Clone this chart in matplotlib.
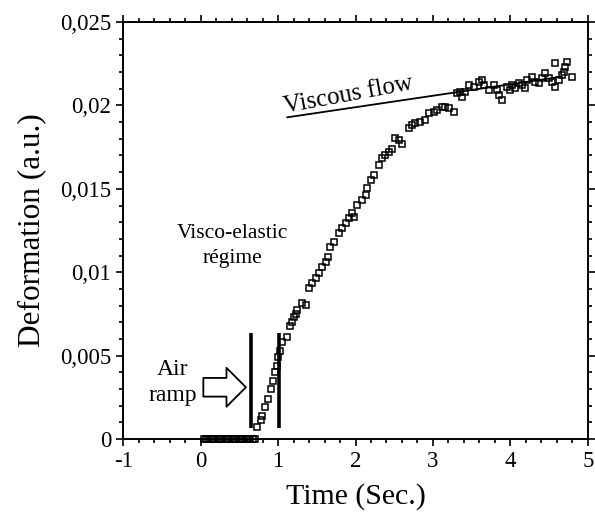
import matplotlib
matplotlib.use("Agg")
import matplotlib.pyplot as plt
from matplotlib.ticker import MultipleLocator, FuncFormatter

plt.rcParams["font.family"] = ["Liberation Serif", "DejaVu Serif"]
plt.rcParams["axes.unicode_minus"] = False

# baseline before the air ramp (deformation = 0)
base_t = [0.04, 0.07, 0.10, 0.13, 0.16, 0.19, 0.22, 0.25, 0.28, 0.31, 0.34,
          0.37, 0.40, 0.43, 0.46, 0.49, 0.52, 0.55, 0.58, 0.61, 0.64, 0.67, 0.70]
base_d = [0.0] * len(base_t)

# measured deformation after the ramp
time = [0.73, 0.774, 0.796, 0.826, 0.865, 0.903, 0.938, 0.955, 0.98, 0.994,
        1.019, 1.054, 1.11, 1.148, 1.183, 1.204, 1.226, 1.248, 1.312, 1.355,
        1.397, 1.441, 1.484, 1.526, 1.570, 1.613, 1.643, 1.677, 1.720, 1.785,
        1.828, 1.871, 1.914, 1.957, 1.978, 2.022, 2.086, 2.129, 2.151, 2.194,
        2.236, 2.301, 2.345, 2.387, 2.430, 2.474, 2.516, 2.559, 2.603, 2.688,
        2.732, 2.774, 2.839, 2.903, 2.946, 3.010, 3.054, 3.119, 3.161, 3.204,
        3.268, 3.312, 3.355, 3.377, 3.419, 3.462, 3.526, 3.591, 3.635, 3.655,
        3.720, 3.785, 3.828, 3.848, 3.893, 3.957, 4.000, 4.022, 4.065, 4.107,
        4.151, 4.194, 4.215, 4.280, 4.323, 4.365, 4.409, 4.452, 4.494, 4.538,
        4.581, 4.581, 4.623, 4.667, 4.688, 4.710, 4.732, 4.796]
deform = [0.00074, 0.00114, 0.00138, 0.0019, 0.0024, 0.0030, 0.0035, 0.0040,
          0.0044, 0.0049, 0.0053, 0.0058, 0.0061, 0.0068, 0.0070, 0.00733,
          0.0075, 0.00773, 0.00814, 0.00803, 0.00903, 0.00933, 0.00963,
          0.00993, 0.01033, 0.01063, 0.01089, 0.01153, 0.01183, 0.01233,
          0.01263, 0.01293, 0.01323, 0.01353, 0.01333, 0.01403, 0.01433,
          0.01463, 0.01503, 0.01553, 0.01583, 0.01643, 0.01683, 0.01703,
          0.01722, 0.01737, 0.01803, 0.01793, 0.01769, 0.01863, 0.01882,
          0.01893, 0.01902, 0.01912, 0.01953, 0.01962, 0.01972, 0.01992,
          0.01992, 0.01983, 0.01962, 0.02072, 0.02082, 0.02052, 0.02082,
          0.02122, 0.02112, 0.02142, 0.02152, 0.02122, 0.02092, 0.02122,
          0.02092, 0.02062, 0.02032, 0.02112, 0.02092, 0.02122, 0.02102,
          0.02132, 0.02122, 0.02102, 0.02152, 0.02172, 0.02142, 0.02132,
          0.02162, 0.02192, 0.02162, 0.02142, 0.02112, 0.02252, 0.02152,
          0.02182, 0.02202, 0.02232, 0.02262, 0.02172]

# viscous flow fit line (start, end)
flow_t = [1.12, 4.65]
flow_d = [0.01929, 0.02172]

# ramp boundaries
ramp_t = [0.645, 1.01]
ramp_lo, ramp_hi = 0.00064, 0.00636

fig = plt.figure(figsize=(5.95, 5.14), dpi=100)
ax = fig.add_axes([0.207, 0.146, 0.781, 0.811])

mk = dict(marker="s", ls="none", ms=4.5, mfc="none", mec="black", mew=1.1)
ax.plot(base_t, base_d, **mk, clip_on=False, zorder=5)
ax.plot(time, deform, **mk)
ax.plot(flow_t, flow_d, color="black", lw=1.3)
ax.vlines(ramp_t, ramp_lo, ramp_hi, color="black", lw=2.6)

ax.annotate("", xy=(0.585, 0.0031), xytext=(0.035, 0.0031),
            arrowprops=dict(arrowstyle="simple,head_length=0.5,head_width=1.0,tail_width=0.48",
                            fc="white", ec="black", lw=1.3, shrinkA=0, shrinkB=0,
                            mutation_scale=28))

ax.text(-0.36, 0.0034, "Air\nramp", ha="center", va="center", fontsize=17,
        linespacing=1.3)
ax.text(0.41, 0.01157, "Visco-elastic\nrégime", ha="center", va="center",
        fontsize=15.5, linespacing=1.45)
ax.text(1.91, 0.0206, "Viscous flow", ha="center", va="center", fontsize=18,
        rotation=10.5)

ax.set_xlim(-1, 5)
ax.set_ylim(0, 0.025)
ax.xaxis.set_major_locator(MultipleLocator(1))
ax.xaxis.set_minor_locator(MultipleLocator(0.2))
ax.yaxis.set_major_locator(MultipleLocator(0.005))
ax.yaxis.set_minor_locator(MultipleLocator(0.001))
ax.yaxis.set_major_formatter(FuncFormatter(
    lambda v, p: "0" if abs(v) < 1e-12 else f"{v:.3f}".rstrip("0").replace(".", ",")))

for s in ax.spines.values():
    s.set_linewidth(1.4)
ax.tick_params(which="both", direction="out", top=True, right=True,
               labelsize=16.5, width=1.2)
ax.tick_params(which="major", length=5)
ax.tick_params(which="minor", length=3)

ax.set_xlabel("Time (Sec.)", fontsize=21.5, labelpad=8)
ax.set_ylabel("Deformation (a.u.)", fontsize=22.5, labelpad=10)

fig.savefig("out.png", dpi=100)
